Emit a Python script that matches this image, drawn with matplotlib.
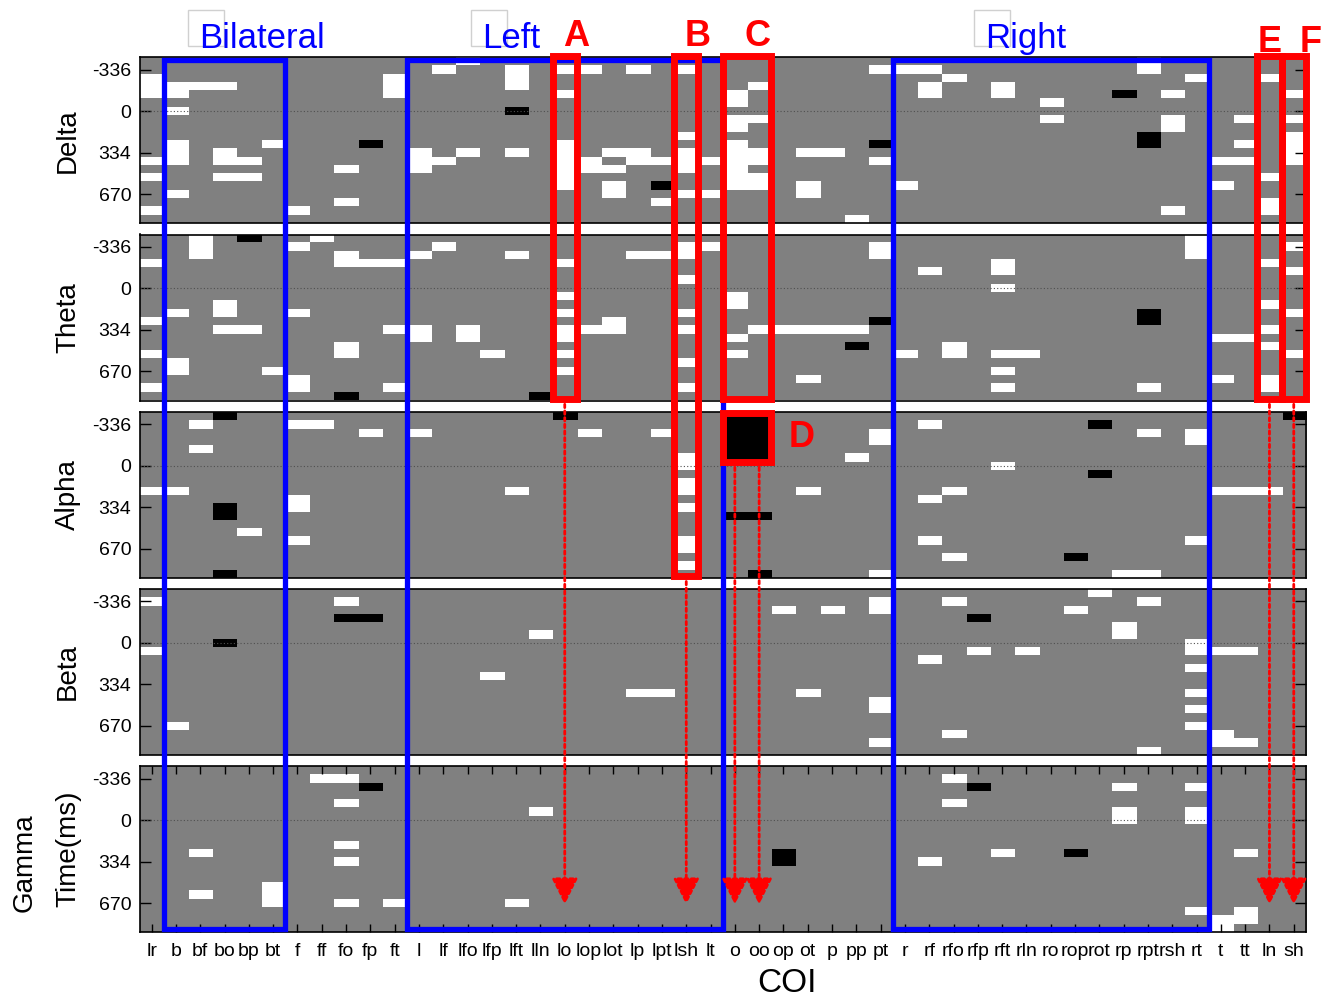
"""Significance map of COI activity per frequency band over time."""

import matplotlib.pyplot as plt
import numpy as np
from matplotlib.colors import ListedColormap
from matplotlib.patches import Rectangle

plt.rcParams["font.family"] = ["Liberation Sans", "DejaVu Sans"]

COIS = ["lr", "b", "bf", "bo", "bp", "bt", "f", "ff", "fo", "fp", "ft",
        "l", "lf", "lfo", "lfp", "lft", "lln", "lo", "lop", "lot", "lp", "lpt", "lsh", "lt",
        "o", "oo", "op", "ot", "p", "pp", "pt",
        "r", "rf", "rfo", "rfp", "rft", "rln", "ro", "rop", "rot", "rp", "rpt", "rsh", "rt",
        "t", "tt", "ln", "sh"]
BANDS = ["Delta", "Theta", "Alpha", "Beta", "Gamma"]
N_BINS = 20
TIME_TICK_BINS = [1, 6, 11, 16]
TIME_TICK_LABELS = ["-336", "0", "334", "670"]
ZERO_BIN = 6

# time bins (rows) per COI that are significant: white = up, black = down
DELTA_WHITE = {
    "lr": [2, 3, 4, 12, 14, 18], "b": [3, 4, 6, 10, 11, 12, 16], "bf": [3],
    "bo": [3, 11, 12, 14], "bp": [12, 14], "bt": [10], "f": [18], "fo": [13, 17],
    "ft": [2, 3, 4], "l": [11, 12, 13], "lf": [1, 12], "lfo": [0, 11],
    "lft": [1, 2, 3, 11], "lo": [1, 4, 10, 11, 12, 13, 14, 15], "lop": [1, 12, 13],
    "lot": [11, 13, 15, 16], "lp": [1, 11, 12], "lpt": [12, 17],
    "lsh": [1, 9, 11, 12, 13, 16], "lt": [12, 16],
    "o": [4, 5, 7, 8, 10, 11, 12, 13, 14, 15], "oo": [3, 7, 11, 12, 14, 15],
    "ot": [11, 15, 16], "p": [11], "pp": [19], "pt": [1, 12], "r": [1, 15],
    "rf": [1, 3, 4], "rfo": [2], "rft": [3, 4], "ro": [5, 7], "rpt": [0, 1],
    "rsh": [4, 7, 8, 18], "rt": [2], "t": [12, 15], "tt": [7, 10, 12],
    "ln": [2, 14, 17, 18], "sh": [4, 7, 9, 10, 11, 12],
}
DELTA_BLACK = {"fp": [10], "lft": [6], "lpt": [15], "pt": [10], "rp": [4], "rpt": [9, 10]}

THETA_WHITE = {
    "lr": [3, 10, 14, 18], "b": [9, 15, 16], "bf": [0, 1, 2], "bo": [8, 9, 11],
    "bp": [11], "bt": [16], "f": [1, 9, 17, 18], "ff": [0], "fo": [2, 3, 13, 14],
    "fp": [3], "ft": [3, 11, 18], "l": [2, 11, 12], "lf": [1], "lfo": [11, 12],
    "lfp": [14], "lft": [2], "lo": [3, 7, 9, 11, 12, 14, 16], "lop": [11],
    "lot": [10, 11], "lp": [2], "lpt": [2], "lsh": [1, 2, 5, 9, 11, 15, 18],
    "lt": [1], "o": [7, 8, 12, 14], "oo": [11], "op": [11], "ot": [11, 17],
    "p": [11], "pp": [11], "pt": [1, 2], "r": [14], "rf": [4], "rfo": [13, 14],
    "rft": [3, 4, 6, 14, 16, 18], "rln": [14], "rpt": [18], "rt": [0, 1, 2],
    "t": [12, 17], "tt": [12], "ln": [3, 8, 11, 13, 17, 18], "sh": [1, 4, 9, 14],
}
THETA_BLACK = {"bp": [0], "fo": [19], "lln": [19], "pp": [13], "pt": [10], "rpt": [9, 10]}

ALPHA_WHITE = {
    "lr": [9], "b": [9], "bf": [1, 4], "bp": [14], "f": [1, 10, 11, 15], "ff": [1],
    "fp": [2], "l": [2], "lft": [9], "lop": [2], "lpt": [2],
    "lsh": [5, 6, 8, 9, 11, 15, 16, 18], "ot": [9], "pp": [5], "pt": [2, 3, 19],
    "rf": [1, 10, 15], "rfo": [9, 17], "rft": [6], "rp": [19], "rpt": [2, 19],
    "rt": [2, 3, 15], "t": [9], "tt": [9], "ln": [9],
}
ALPHA_BLACK = {
    "bo": [0, 11, 12, 19], "lo": [0], "o": [0, 1, 2, 3, 4, 5, 12], "oo": [0, 1, 2, 3, 4, 5, 12, 19],
    "rot": [1, 7], "rop": [17], "sh": [0],
}

BETA_WHITE = {
    "lr": [1, 7], "b": [16], "fo": [1], "lfp": [10], "lln": [5], "lp": [12], "lpt": [12],
    "op": [2], "ot": [12], "p": [2], "pt": [1, 2, 13, 14, 18], "rf": [8],
    "rfo": [1, 17], "rfp": [7], "rln": [7], "rop": [2], "rot": [0], "rp": [4, 5],
    "rpt": [1, 19], "rt": [6, 7, 9, 12, 14, 16], "t": [7, 17, 18], "tt": [7, 18],
}
BETA_BLACK = {"bo": [6], "fo": [3], "fp": [3], "rfp": [3]}

GAMMA_WHITE = {
    "bf": [10, 15], "bt": [14, 15, 16], "ff": [1], "fo": [1, 4, 9, 11, 16], "ft": [16],
    "lft": [16], "lln": [5], "rf": [11], "rfo": [1, 4], "rft": [10], "rp": [2, 5, 6],
    "rt": [2, 5, 6, 17], "t": [18, 19], "tt": [10, 17, 18],
}
GAMMA_BLACK = {"fp": [2], "op": [10, 11], "rfp": [2], "rop": [10]}

BAND_WHITE = [DELTA_WHITE, THETA_WHITE, ALPHA_WHITE, BETA_WHITE, GAMMA_WHITE]
BAND_BLACK = [DELTA_BLACK, THETA_BLACK, ALPHA_BLACK, BETA_BLACK, GAMMA_BLACK]

# hemisphere groups (label, first COI, last COI) and highlighted regions
GROUPS = [("Bilateral", "b", "bt"), ("Left", "l", "lt"), ("Right", "r", "rt")]
GROUP_LABEL_COL = [2.45, 14.1, 34.8]
MARKS = [
    ("A", "lo", "lo", 0, 1, 0, N_BINS),
    ("B", "lsh", "lsh", 0, 2, 0, N_BINS),
    ("C", "o", "oo", 0, 1, 0, N_BINS),
    ("D", "o", "oo", 2, 2, 0, 6),
    ("E", "ln", "ln", 0, 1, 0, N_BINS),
    ("F", "sh", "sh", 0, 1, 0, N_BINS),
]
ARROWS = [("lo", "A"), ("lsh", "B"), ("o", "D"), ("oo", "D"), ("ln", "E"), ("sh", "F")]

# figure geometry in pixels
W, H = 1333, 998
X0, COL_W = 139.5, 24.3
TOP0, STEP, PANEL_H = 57.3, 177.2, 166.0
BIN_H = PANEL_H / N_BINS


def _grid(white, black):
    grid = np.zeros((N_BINS, len(COIS)))
    for coi, bins in white.items():
        grid[bins, COIS.index(coi)] = 1
    for coi, bins in black.items():
        grid[bins, COIS.index(coi)] = -1
    return grid


def _col_x(name):
    return X0 + COIS.index(name) * COL_W


def _bin_y(band, b):
    return TOP0 + band * STEP + b * BIN_H


fig = plt.figure(figsize=(W / 100, H / 100), dpi=100)
cmap = ListedColormap(["black", "#808080", "white"])

for i, band in enumerate(BANDS):
    top = TOP0 + i * STEP
    ax = fig.add_axes([X0 / W, 1 - (top + PANEL_H) / H, len(COIS) * COL_W / W, PANEL_H / H])
    ax.imshow(_grid(BAND_WHITE[i], BAND_BLACK[i]), cmap=cmap, vmin=-1, vmax=1,
              aspect="auto", interpolation="nearest",
              extent=(-0.5, len(COIS) - 0.5, N_BINS - 0.5, -0.5))
    ax.axhline(ZERO_BIN, color="#505050", lw=0.8, ls=(0, (1, 2)))
    ax.set_yticks(TIME_TICK_BINS, TIME_TICK_LABELS)
    ax.tick_params(axis="y", direction="in", length=8, width=1, left=True, right=True,
                   labelsize=14, pad=6)
    if i == len(BANDS) - 1:
        ax.set_xticks(range(len(COIS)), COIS)
        ax.tick_params(axis="x", direction="in", length=6, width=1, top=True, bottom=True,
                       labelsize=14, pad=8)
    else:
        ax.set_xticks([])
    for spine in ax.spines.values():
        spine.set_linewidth(1.2)
    label_y = 1 - (top + PANEL_H / 2) / H
    if band == "Gamma":
        fig.text(25 / W, label_y - 14 / H, band, rotation=90, ha="center", va="center", fontsize=20)
        fig.text(68 / W, label_y, "Time(ms)", rotation=90, ha="center", va="center", fontsize=20)
    else:
        fig.text(68 / W, label_y, band, rotation=90, ha="center", va="center", fontsize=20)

fig.text(787 / W, 1 - 983 / H, "COI", ha="center", va="center", fontsize=24)

ov = fig.add_axes([0, 0, 1, 1], zorder=5)
ov.set_xlim(0, W)
ov.set_ylim(H, 0)
ov.axis("off")

for (name, first, last), label_col in zip(GROUPS, GROUP_LABEL_COL):
    x0 = _col_x(first)
    x1 = _col_x(last) + COL_W
    ov.add_patch(Rectangle((x0, TOP0 + 3), x1 - x0, 4 * STEP + PANEL_H - 6,
                           fill=False, ec="#0000ff", lw=3.8))
    lx = X0 + label_col * COL_W
    ov.add_patch(Rectangle((lx - 11, 10), 36, 36, fill=False, ec="#d0d0d0", lw=1))
    ov.text(lx, 48, name, color="#0000ff", fontsize=25, ha="left", va="baseline")

box_bottom = {}
for label, first, last, band0, band1, bin0, bin1 in MARKS:
    x0 = _col_x(first)
    x1 = _col_x(last) + COL_W
    y0 = _bin_y(band0, bin0) + (1 if label == "D" else -1)
    y1 = _bin_y(band1, bin1) - (0 if label == "D" else 2)
    ov.add_patch(Rectangle((x0, y0), x1 - x0, y1 - y0, fill=False, ec="red", lw=5))
    box_bottom[label] = y1
    if label == "D":
        ov.text(x1 + 17, (y0 + y1) / 2, label, color="red", fontsize=26, fontweight="bold",
                ha="left", va="center")
    else:
        dx = {"E": 0, "F": 17}.get(label, 11)
        ly = 42 if label in ("E", "F") else 36
        ov.text((x0 + x1) / 2 + dx, ly, label, color="red", fontsize=26, fontweight="bold",
                ha="center", va="center")

arrow_end = _bin_y(4, 17)
for coi, label in ARROWS:
    x = _col_x(coi) + COL_W / 2
    ov.annotate("", xy=(x, arrow_end), xytext=(x, box_bottom[label] + 3),
                arrowprops=dict(arrowstyle="-|>,head_length=0.9,head_width=0.45",
                                color="red", lw=2, ls=(0, (1.2, 1.2)), mutation_scale=18))

fig.savefig("out.png", dpi=100)
